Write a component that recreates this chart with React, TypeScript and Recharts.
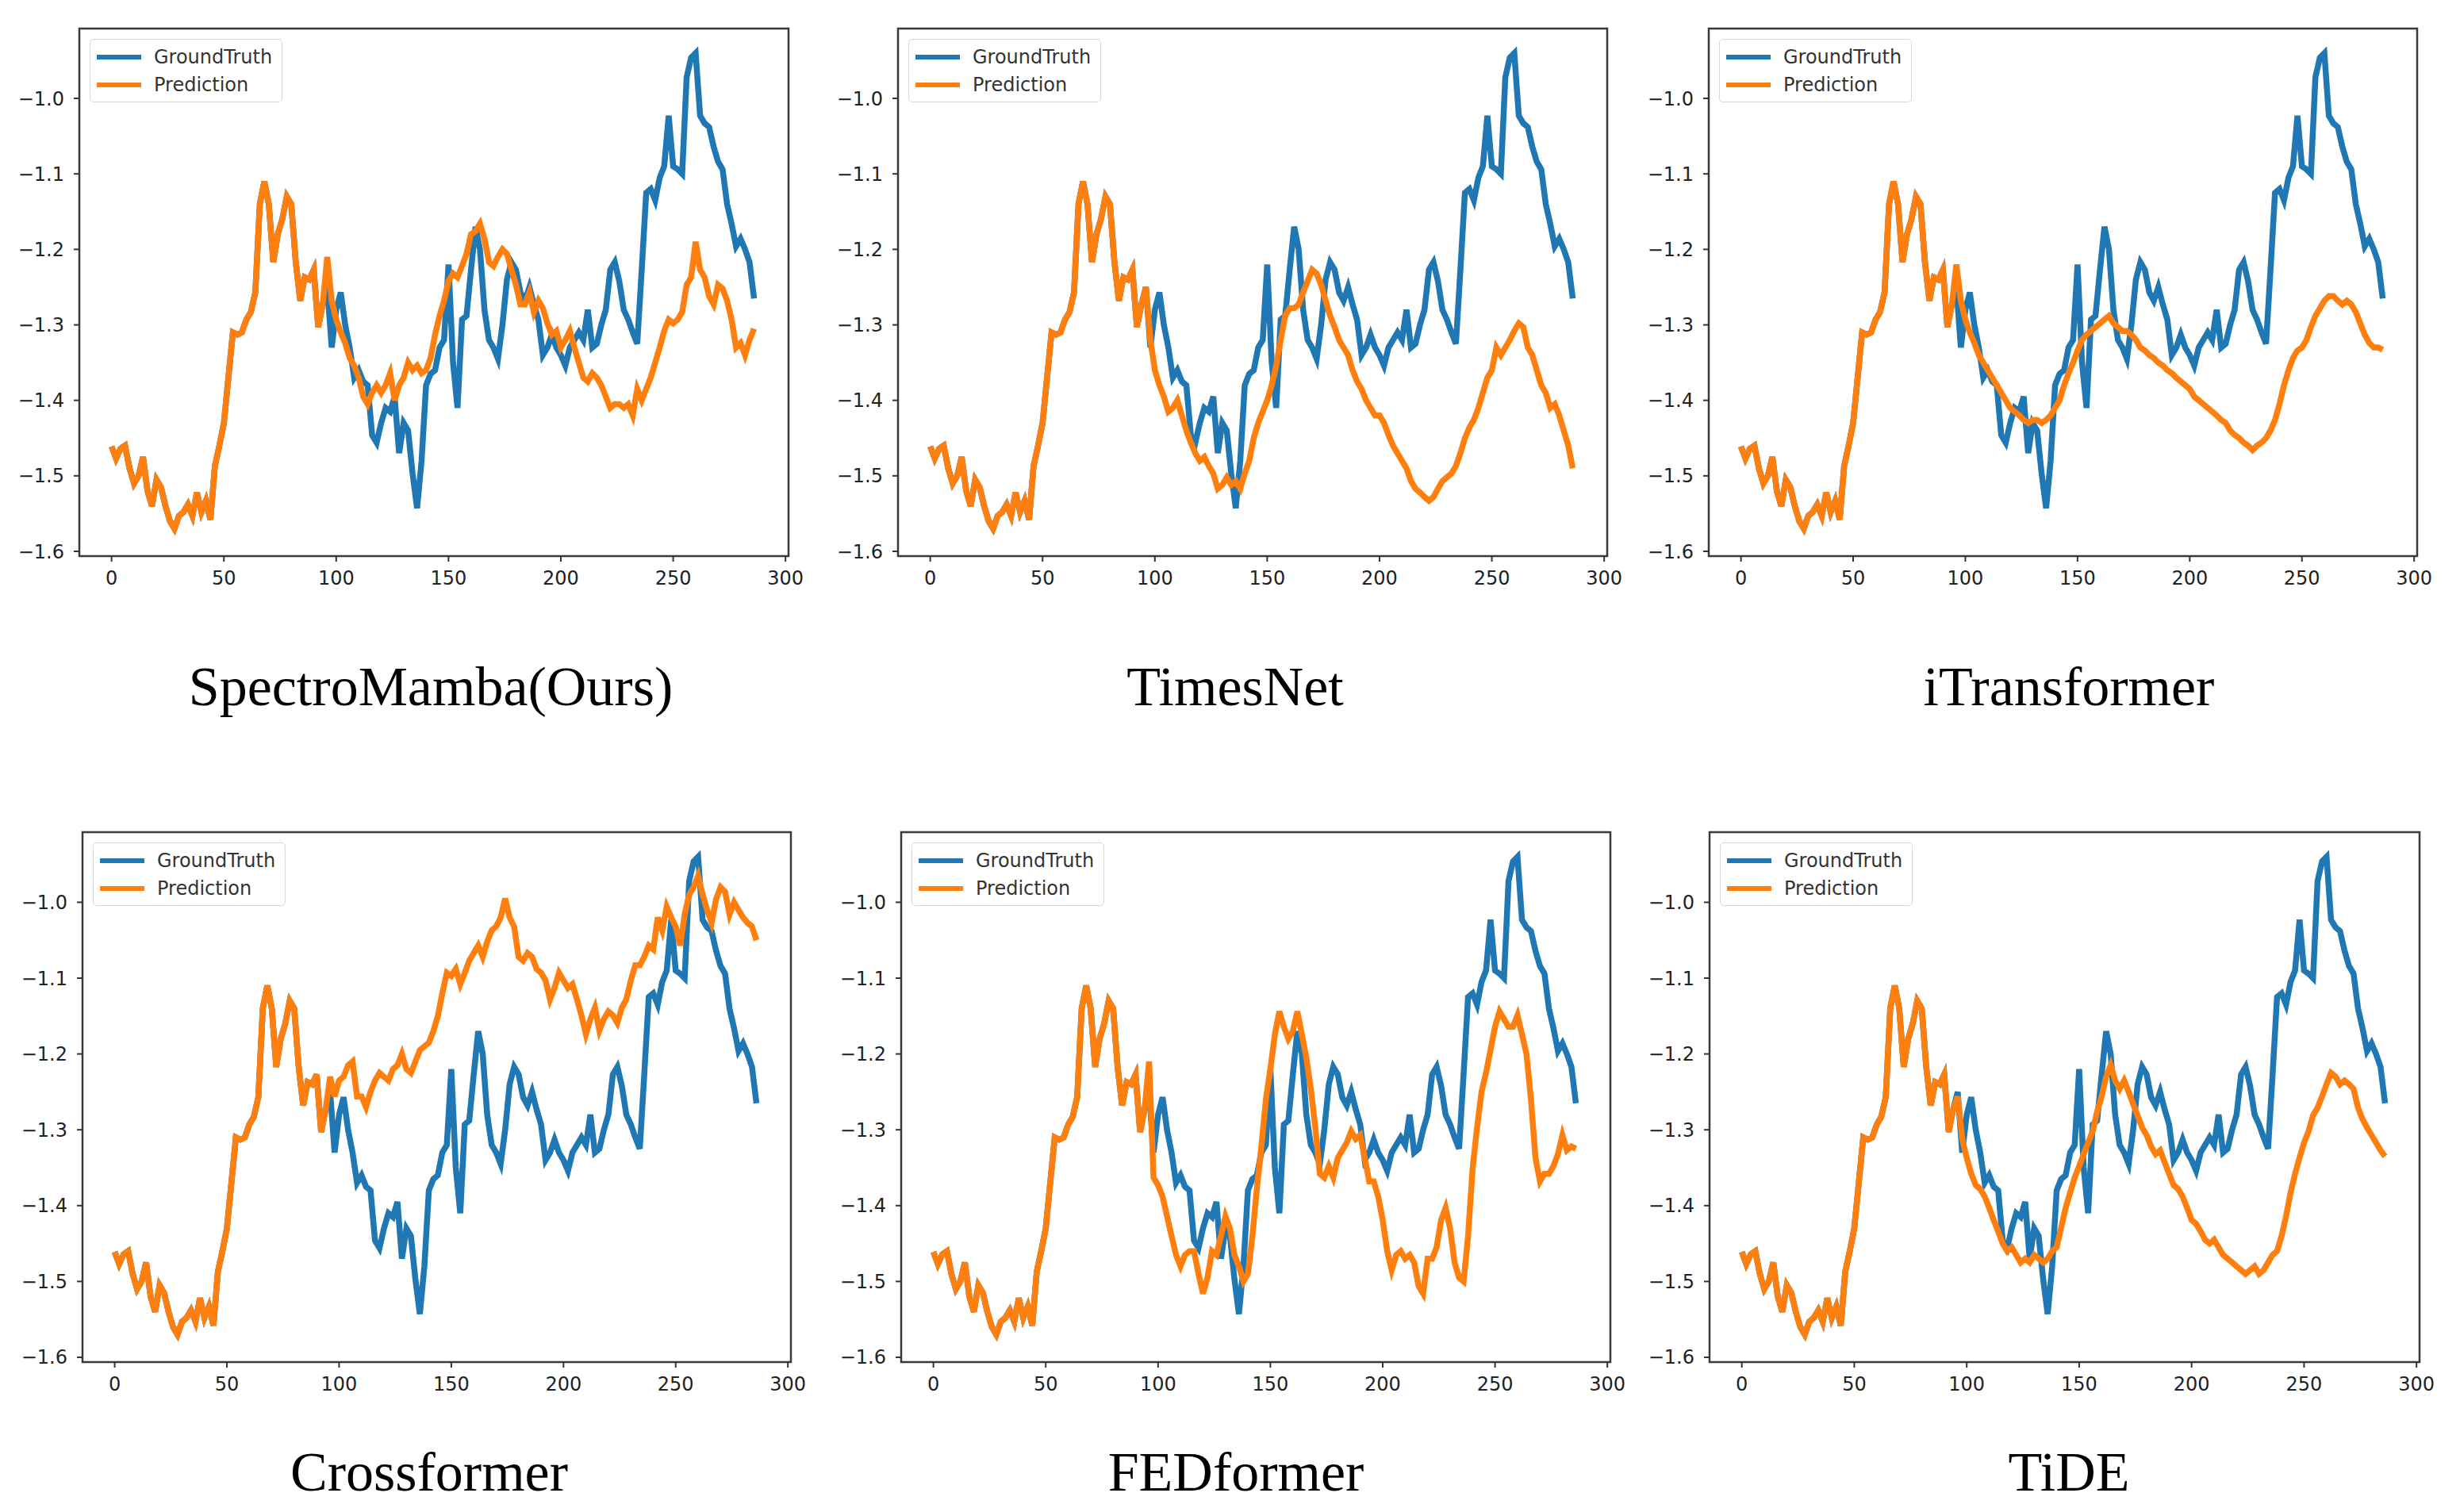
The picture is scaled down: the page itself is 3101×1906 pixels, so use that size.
import React from 'react';
import { LineChart, Line, XAxis, YAxis, ReferenceArea, Legend } from 'recharts';

const xTicks = [0, 50, 100, 150, 200, 250, 300];
const yTicks = [-1.6, -1.5, -1.4, -1.3, -1.2, -1.1, -1.0];

// lookback window, x = 0..94 step 2 (same for both lines)
const history = [
  -1.461, -1.477, -1.464, -1.46, -1.49, -1.51, -1.5, -1.475, -1.52, -1.54, -1.505, -1.515,
  -1.54, -1.56, -1.57, -1.553, -1.548, -1.538, -1.553, -1.522, -1.548, -1.533, -1.558, -1.487,
  -1.46, -1.43, -1.37, -1.31, -1.313, -1.31, -1.293, -1.283, -1.257, -1.14, -1.11, -1.14,
  -1.217, -1.18, -1.16, -1.13, -1.14, -1.217, -1.268, -1.237, -1.24, -1.227, -1.303, -1.273,
];

// horizon, x = 96..286 step 2
const groundTruth = [
  -1.25, -1.33, -1.28, -1.257, -1.3, -1.33, -1.37, -1.36, -1.375, -1.38, -1.446, -1.456,
  -1.43, -1.41, -1.415, -1.395, -1.47, -1.43, -1.44, -1.497, -1.543, -1.48, -1.38, -1.365,
  -1.36, -1.33, -1.32, -1.22, -1.35, -1.41, -1.293, -1.288, -1.227, -1.17, -1.2, -1.28,
  -1.32, -1.33, -1.345, -1.3, -1.24, -1.217, -1.227, -1.257, -1.268, -1.25, -1.273, -1.293,
  -1.34, -1.33, -1.313, -1.33, -1.34, -1.354, -1.33, -1.32, -1.31, -1.32, -1.28, -1.33,
  -1.325, -1.3, -1.28, -1.227, -1.217, -1.242, -1.28, -1.293, -1.31, -1.325, -1.227, -1.125,
  -1.12, -1.135, -1.105, -1.09, -1.023, -1.09, -1.094, -1.1, -0.972, -0.946, -0.94, -1.023,
  -1.033, -1.038, -1.064, -1.084, -1.094, -1.14, -1.166, -1.196, -1.186, -1.2, -1.217, -1.265,
];

const spectroMamba = [
  -1.21, -1.268, -1.293, -1.31, -1.324, -1.344, -1.354, -1.37, -1.395, -1.405, -1.39, -1.38,
  -1.39, -1.38, -1.364, -1.4, -1.38, -1.37, -1.35, -1.36, -1.354, -1.364, -1.36, -1.344,
  -1.313, -1.288, -1.268, -1.242, -1.232, -1.237, -1.222, -1.206, -1.18, -1.176, -1.166, -1.186,
  -1.217, -1.222, -1.21, -1.2, -1.206, -1.227, -1.247, -1.273, -1.273, -1.257, -1.283, -1.268,
  -1.278, -1.298, -1.313, -1.308, -1.33, -1.32, -1.308, -1.33, -1.35, -1.37, -1.375, -1.364,
  -1.37, -1.38, -1.395, -1.41, -1.405, -1.405, -1.41, -1.405, -1.42, -1.385, -1.4, -1.385,
  -1.37, -1.35, -1.33, -1.308, -1.293, -1.298, -1.293, -1.283, -1.247, -1.237, -1.19, -1.227,
  -1.237, -1.262, -1.273, -1.247, -1.252, -1.268, -1.293, -1.33, -1.324, -1.34, -1.32, -1.305,
];

const timesNet = [
  -1.25, -1.32, -1.36, -1.38, -1.395, -1.415, -1.41, -1.4, -1.42, -1.44, -1.456, -1.47,
  -1.48, -1.475, -1.487, -1.497, -1.517, -1.512, -1.502, -1.512, -1.507, -1.517, -1.497, -1.48,
  -1.45, -1.43, -1.415, -1.4, -1.38, -1.354, -1.32, -1.288, -1.278, -1.278, -1.273, -1.257,
  -1.242, -1.227, -1.232, -1.247, -1.268, -1.288, -1.303, -1.32, -1.33, -1.34, -1.36, -1.375,
  -1.385, -1.4, -1.41, -1.42, -1.42, -1.43, -1.446, -1.46, -1.47, -1.48, -1.49, -1.507,
  -1.517, -1.522, -1.528, -1.533, -1.528, -1.517, -1.507, -1.502, -1.497, -1.487, -1.47, -1.45,
  -1.436, -1.426, -1.41, -1.39, -1.37, -1.36, -1.33, -1.34, -1.33, -1.32, -1.308, -1.298,
  -1.303, -1.33, -1.34, -1.36, -1.38, -1.39, -1.41, -1.405, -1.42, -1.44, -1.46, -1.49,
];

const iTransformer = [
  -1.22, -1.268, -1.293, -1.31, -1.324, -1.34, -1.35, -1.36, -1.37, -1.38, -1.39, -1.4,
  -1.41, -1.415, -1.42, -1.426, -1.43, -1.426, -1.426, -1.43, -1.426, -1.42, -1.41, -1.4,
  -1.38, -1.364, -1.35, -1.334, -1.32, -1.313, -1.308, -1.303, -1.298, -1.293, -1.288, -1.298,
  -1.303, -1.308, -1.308, -1.313, -1.32, -1.33, -1.334, -1.34, -1.344, -1.35, -1.354, -1.36,
  -1.364, -1.37, -1.375, -1.38, -1.385, -1.395, -1.4, -1.405, -1.41, -1.415, -1.42, -1.426,
  -1.43, -1.44, -1.446, -1.45, -1.456, -1.46, -1.466, -1.46, -1.456, -1.45, -1.44, -1.426,
  -1.405, -1.38, -1.36, -1.344, -1.334, -1.33, -1.32, -1.303, -1.288, -1.278, -1.268, -1.262,
  -1.262, -1.268, -1.273, -1.268, -1.273, -1.283, -1.298, -1.313, -1.324, -1.33, -1.33, -1.333,
];

const crossformer = [
  -1.23, -1.256, -1.235, -1.23, -1.215, -1.21, -1.256, -1.256, -1.27, -1.25, -1.235, -1.225,
  -1.23, -1.235, -1.22, -1.215, -1.2, -1.22, -1.225, -1.21, -1.195, -1.19, -1.185, -1.17,
  -1.15, -1.12, -1.093, -1.097, -1.088, -1.108, -1.093, -1.077, -1.067, -1.057, -1.072, -1.052,
  -1.037, -1.032, -1.02, -0.995, -1.02, -1.032, -1.072, -1.077, -1.067, -1.072, -1.088, -1.093,
  -1.103, -1.128, -1.113, -1.093, -1.103, -1.113, -1.108, -1.128, -1.149, -1.174, -1.154, -1.139,
  -1.169, -1.154, -1.144, -1.149, -1.159, -1.139, -1.128, -1.103, -1.083, -1.083, -1.072, -1.057,
  -1.062, -1.02, -1.037, -1.006, -1.02, -1.032, -1.057, -1.016, -0.99, -0.98, -0.965, -0.99,
  -1.01, -1.027, -0.996, -0.98, -0.986, -1.016, -1.0, -1.01, -1.02, -1.027, -1.032, -1.05,
];

const fedFormer = [
  -1.21, -1.363, -1.373, -1.388, -1.414, -1.44, -1.465, -1.48, -1.465, -1.46, -1.46, -1.49,
  -1.516, -1.495, -1.46, -1.465, -1.44, -1.414, -1.43, -1.465, -1.48, -1.5, -1.49, -1.44,
  -1.377, -1.322, -1.26, -1.22, -1.174, -1.144, -1.164, -1.18, -1.17, -1.144, -1.174, -1.205,
  -1.246, -1.297, -1.358, -1.363, -1.348, -1.363, -1.337, -1.327, -1.317, -1.302, -1.312, -1.307,
  -1.337, -1.368, -1.368, -1.388, -1.419, -1.46, -1.485, -1.465, -1.46, -1.47, -1.465, -1.475,
  -1.506, -1.516, -1.47, -1.47, -1.455, -1.419, -1.403, -1.43, -1.475, -1.495, -1.5, -1.44,
  -1.352, -1.297, -1.25, -1.225, -1.195, -1.164, -1.144, -1.154, -1.164, -1.164, -1.149, -1.174,
  -1.2, -1.26, -1.337, -1.368, -1.358, -1.358, -1.348, -1.332, -1.307, -1.327, -1.322, -1.325,
];

const tide = [
  -1.256, -1.312, -1.337, -1.358, -1.373, -1.378, -1.388, -1.403, -1.419, -1.434, -1.45, -1.46,
  -1.455, -1.465, -1.475, -1.47, -1.475, -1.465, -1.47, -1.475, -1.47, -1.46, -1.455, -1.429,
  -1.403, -1.383, -1.363, -1.348, -1.332, -1.317, -1.302, -1.276, -1.256, -1.23, -1.215, -1.235,
  -1.246, -1.235, -1.25, -1.266, -1.281, -1.297, -1.307, -1.322, -1.332, -1.327, -1.343, -1.358,
  -1.373, -1.378, -1.388, -1.403, -1.419, -1.424, -1.434, -1.445, -1.45, -1.445, -1.455, -1.465,
  -1.47, -1.475, -1.48, -1.485, -1.49, -1.485, -1.48, -1.49, -1.485, -1.475, -1.465, -1.46,
  -1.44, -1.414, -1.383, -1.358, -1.337, -1.317, -1.302, -1.281, -1.271, -1.256, -1.24, -1.225,
  -1.23, -1.24, -1.235, -1.24, -1.246, -1.271, -1.286, -1.297, -1.307, -1.317, -1.327, -1.335,
];

const titles = ['SpectroMamba(Ours)', 'TimesNet', 'iTransformer', 'Crossformer', 'FEDformer', 'TiDE'];
const predictions = [spectroMamba, timesNet, iTransformer, crossformer, fedFormer, tide];

const BLUE = '#1f77b4';
const ORANGE = '#ff7f0e';
const AXIS_W = 90;
const AXIS_H = 60;
const MT = 10;
const MR = 40;
const X_DOMAIN: [number, number] = [-14.35, 301.35];
const Y_DOMAIN: [number, number] = [-1.6063, -0.9075];

// plot-area boxes in page pixels
const boxes = [
  { left: 100, top: 36, w: 894, h: 665 },
  { left: 1132, top: 36, w: 894, h: 665 },
  { left: 2154, top: 36, w: 893, h: 665 },
  { left: 104, top: 1049, w: 893, h: 668 },
  { left: 1136, top: 1049, w: 894, h: 668 },
  { left: 2155, top: 1049, w: 895, h: 668 },
];
const titlePos = [
  { x: 543, y: 866 },
  { x: 1557, y: 866 },
  { x: 2608, y: 866 },
  { x: 541, y: 1856 },
  { x: 1558, y: 1856 },
  { x: 2608, y: 1856 },
];

const buildRows = (pred: number[]) =>
  history.concat(groundTruth).map((gt, i) => ({
    x: i * 2,
    gt,
    pred: i < history.length ? gt : pred[i - history.length],
  }));

const tickStyle = { fill: '#222', fontSize: 24, fontFamily: 'DejaVu Sans' };
const fmtY = (v: number) => v.toFixed(1).replace('-', '\u2212');

function LegendBox() {
  const items = [
    { label: 'GroundTruth', color: BLUE },
    { label: 'Prediction', color: ORANGE },
  ];
  return (
    <div
      style={{
        padding: '9px 12px 9px 8px',
        border: '1.5px solid #d8d8d8',
        borderRadius: 5,
        background: 'rgba(255,255,255,0.8)',
        display: 'flex',
        flexDirection: 'column',
        gap: 10,
      }}
    >
      {items.map((it) => (
        <div key={it.label} style={{ display: 'flex', alignItems: 'center', height: 25 }}>
          <span style={{ width: 56, height: 6, background: it.color, marginRight: 16 }} />
          <span style={{ fontFamily: 'DejaVu Sans', fontSize: 24, color: '#333' }}>{it.label}</span>
        </div>
      ))}
    </div>
  );
}

function Panel({ idx }: { idx: number }) {
  const b = boxes[idx];
  const data = buildRows(predictions[idx]);
  return (
    <div style={{ position: 'absolute', left: b.left - AXIS_W, top: b.top - MT }}>
      <LineChart
        width={AXIS_W + b.w + MR}
        height={MT + b.h + AXIS_H}
        data={data}
        margin={{ top: MT, right: MR, left: 0, bottom: 0 }}
      >
        <XAxis
          dataKey="x"
          type="number"
          domain={X_DOMAIN}
          ticks={xTicks}
          allowDataOverflow
          height={AXIS_H}
          axisLine={false}
          tickSize={7}
          tickMargin={12}
          tickLine={{ stroke: '#333', strokeWidth: 2 }}
          tick={tickStyle}
        />
        <YAxis
          type="number"
          domain={Y_DOMAIN}
          ticks={yTicks}
          allowDataOverflow
          width={AXIS_W}
          axisLine={false}
          tickSize={7}
          tickMargin={12}
          tickLine={{ stroke: '#333', strokeWidth: 2 }}
          tick={tickStyle}
          tickFormatter={fmtY}
        />
        <ReferenceArea
          x1={X_DOMAIN[0]}
          x2={X_DOMAIN[1]}
          y1={Y_DOMAIN[0]}
          y2={Y_DOMAIN[1]}
          fill="none"
          stroke="#3a3a3a"
          strokeWidth={2.5}
        />
        <Line
          dataKey="gt"
          name="GroundTruth"
          stroke={BLUE}
          strokeWidth={7.5}
          dot={false}
          type="linear"
          isAnimationActive={false}
        />
        <Line
          dataKey="pred"
          name="Prediction"
          stroke={ORANGE}
          strokeWidth={7.5}
          dot={false}
          type="linear"
          isAnimationActive={false}
        />
        <Legend
          layout="horizontal"
          verticalAlign="middle"
          align="center"
          content={() => <LegendBox />}
          wrapperStyle={{ position: 'absolute', left: AXIS_W + 13, top: MT + 13, width: 'auto', height: 'auto' }}
        />
      </LineChart>
    </div>
  );
}

export default function App() {
  return (
    <div style={{ position: 'relative', width: 3101, height: 1906, background: '#fff' }}>
      <style>{'body{margin:0}'}</style>
      {titles.map((t, i) => (
        <Panel key={t} idx={i} />
      ))}
      {titles.map((t, i) => (
        <div
          key={'title-' + t}
          style={{
            position: 'absolute',
            left: titlePos[i].x,
            top: titlePos[i].y,
            transform: 'translate(-50%, -50%)',
            fontFamily: "'Liberation Serif', 'Times New Roman', serif",
            fontSize: 70,
            lineHeight: 1,
            color: '#000',
            whiteSpace: 'nowrap',
          }}
        >
          {t}
        </div>
      ))}
    </div>
  );
}
